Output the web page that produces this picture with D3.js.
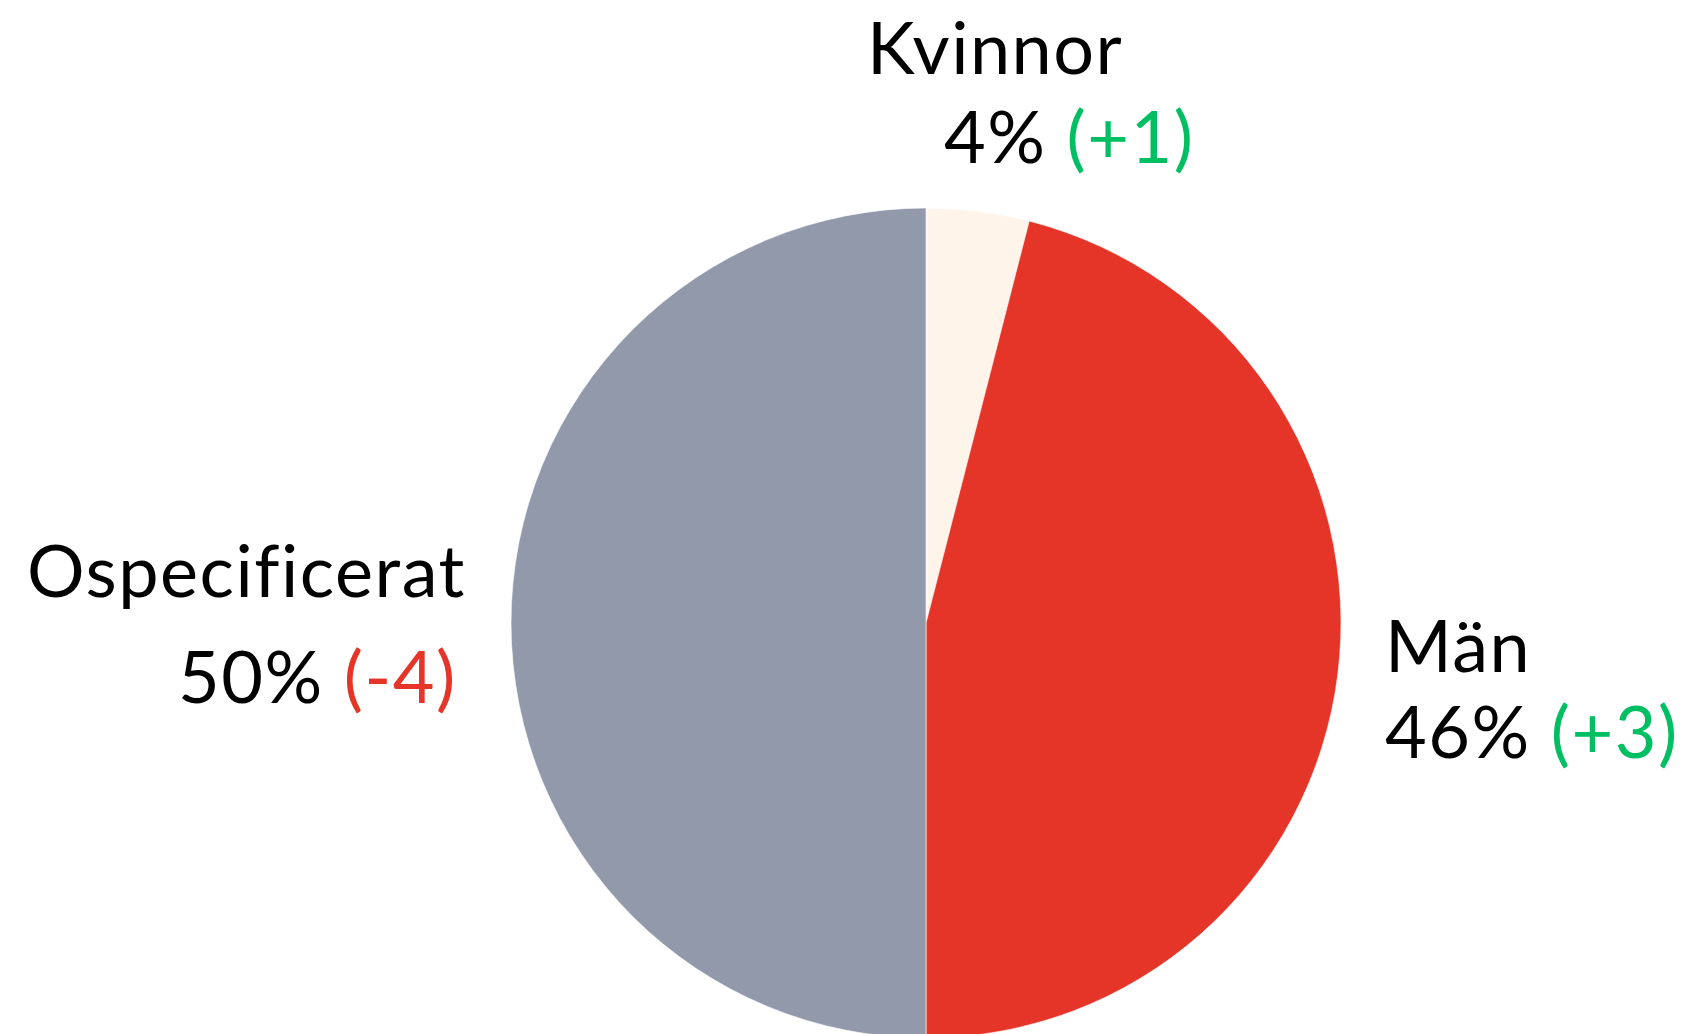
<!DOCTYPE html>
<html>
<head>
<meta charset="utf-8">
<script src="https://cdn.jsdelivr.net/npm/d3@7"></script>
<style>
  html, body { margin: 0; padding: 0; background: #fff; overflow: hidden; }
  text { font-family: Lato, "Noto Sans", sans-serif; font-size: 72px; fill: #000;
         letter-spacing: 1.5px; font-variant-ligatures: none; }
</style>
</head>
<body>
<script>
// data
const categories = ["Kvinnor", "Män", "Ospecificerat"];
const shares = [4, 46, 50];
const changes = ["+1", "+3", "-4"];
const colors = ["#fef4ea", "#e43528", "#9199aa"];

// label layout (name line x/y, value line x/y)
const labelPos = [
  { nx: 867, ny: 74, vx: 944, vy: 163 },
  { nx: 1385, ny: 672, vx: 1385, vy: 758 },
  { nx: 27, ny: 597, vx: 178, vy: 703 }
];

const width = 1683, height = 1034;
const cx = 926, cy = 623, radius = 415;

let svg = d3.select("body").append("svg")
  .attr("width", width).attr("height", height);

let pie = d3.pie().sort(null).value(d => d)(shares);
let arc = d3.arc().innerRadius(0).outerRadius(radius);

let g = svg.append("g").attr("transform", `translate(${cx},${cy})`);
g.selectAll("path").data(pie).join("path")
  .attr("d", arc)
  .attr("fill", (d, i) => colors[i])
  .attr("stroke", "#fff")
  .attr("stroke-width", 0.6);

// labels
categories.forEach((c, i) => {
  let p = labelPos[i];
  svg.append("text").attr("x", p.nx).attr("y", p.ny).text(c);
  let t = svg.append("text").attr("x", p.vx).attr("y", p.vy);
  t.append("tspan").text(shares[i] + "% ");
  t.append("tspan")
    .style("fill", changes[i][0] === "-" ? "#e43528" : "#00bf63")
    .text("(" + changes[i] + ")");
});
</script>
</body>
</html>
